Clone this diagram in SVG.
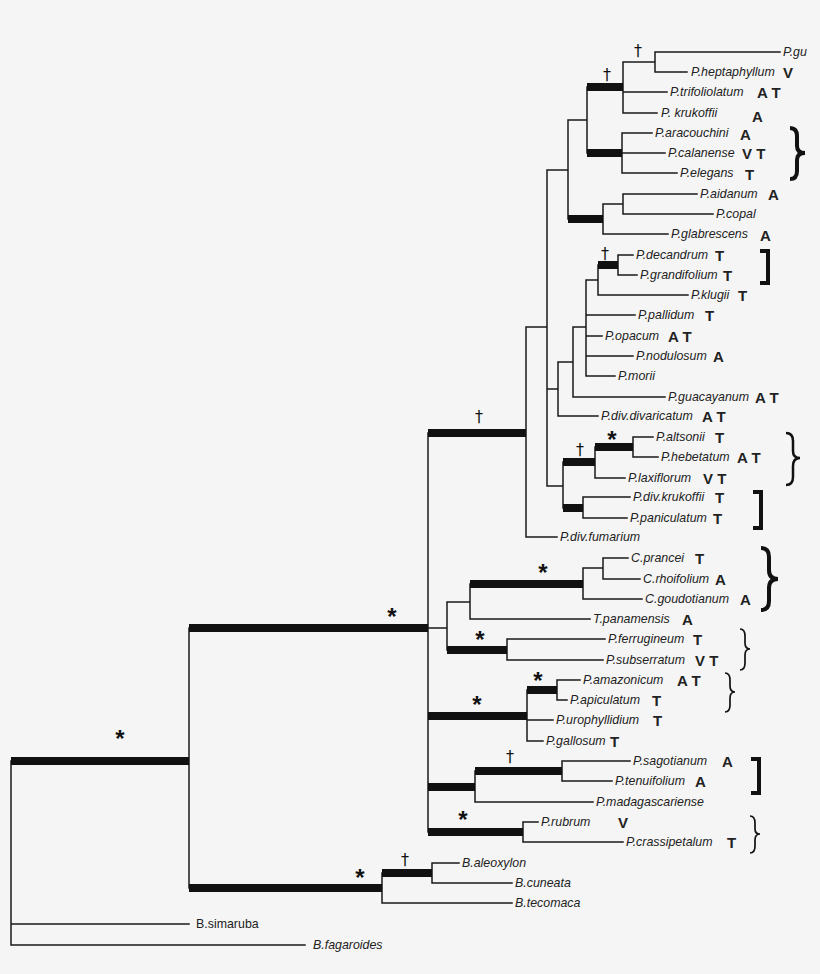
<svg xmlns="http://www.w3.org/2000/svg" width="820" height="974" viewBox="0 0 820 974">
<style>
.t{fill:none;stroke:#1a1a1a;stroke-width:1.5;stroke-linecap:square}
.k{fill:none;stroke:#111;stroke-width:8;stroke-linecap:butt}
.n{font-family:"Liberation Sans",Arial,sans-serif;font-style:italic;font-size:12.4px;fill:#222}
.u{font-family:"Liberation Sans",Arial,sans-serif;font-size:12.4px;fill:#222}
.c{font-family:"Liberation Sans",Arial,sans-serif;font-weight:bold;font-size:15px;fill:#222}
.m{font-family:"DejaVu Sans",sans-serif;font-size:16px;fill:#111;text-anchor:middle}
.s{font-family:"Liberation Sans",Arial,sans-serif;font-weight:bold;font-size:24px;fill:#111;text-anchor:middle}
.b{fill:none;stroke:#111;stroke-linecap:butt;stroke-linejoin:miter}
</style>
<rect width="820" height="974" fill="#f5f5f5"/>
<g id="connectors">
<path class="t" d="M655 52H780M655 72H687M655 52V72M623 62H655M623 62V113M623 92H667M623 113H657
M622 133V173M622 133H652M622 153H665M622 173H677M587 87V153M568 120H587
M623 194V214M623 194H697M623 214H713M603 204H623M603 204V234M603 234H668M568 120V219M547 170H568
M618 255V275M618 255H633M618 275H637M598 265V295M598 295H688M586 280H598M586 280V376
M586 315H635M586 336H602M586 356H633M586 376H615M573 327H586M573 327V397M573 397H665
M558 362H573M558 362V416M558 416H598M547 389H558
M633 437V457M633 437H653M633 457H658M595 447V478M595 478H625
M583 497V518M583 497H630M583 518H627M563 462V508M547 486H563M547 170V486M526 327H547M526 327V537M526 537H557
M603 558V579M603 558H628M603 579H640M583 568H603M583 568V599M583 599H642M470 584V619M470 619H590M447 602H470
M507 639V660M507 639H605M507 660H603M447 602V650M428 628H447
M557 680V700M557 680H580M557 700H567M527 690V741M527 720H553M527 741H543
M562 761V781M562 761H630M562 781H612M475 771V802M475 802H593
M523 822V842M523 822H538M523 842H623M428 433V832
M432 863V883M432 863H459M432 883H512M382 873V903M382 903H512
M189 628V888M11 761V945M11 924H189M11 945H305"/>
<path class="k" d="M587 87H623M587 153H622M568 219H603M598 265H618M428 433H526M595 447H633M563 462H595M563 508H583
M470 584H583M447 650H507M428 716H527M527 690H557M428 787H475M475 771H562M428 832H523M189 628H428
M382 873H432M189 888H382M11 761H189"/>
</g>
<g id="leaves">
<text class="n" x="783" y="56">P.gu</text>
<text class="n" x="691" y="76">P.heptaphyllum</text><text class="c" x="783" y="78">V</text>
<text class="n" x="670" y="96">P.trifoliolatum</text><text class="c" x="757" y="98">A T</text>
<text class="n" x="661" y="117">P. krukoffii</text><text class="c" x="752" y="122">A</text>
<text class="n" x="655" y="137">P.aracouchini</text><text class="c" x="740" y="140">A</text>
<text class="n" x="668" y="157">P.calanense</text><text class="c" x="742" y="159">V T</text>
<text class="n" x="680" y="177">P.elegans</text><text class="c" x="745" y="180">T</text>
<text class="n" x="700" y="198">P.aidanum</text><text class="c" x="768" y="200">A</text>
<text class="n" x="716" y="218">P.copal</text>
<text class="n" x="671" y="238">P.glabrescens</text><text class="c" x="760" y="241">A</text>
<text class="n" x="636" y="259">P.decandrum</text><text class="c" x="715" y="261">T</text>
<text class="n" x="640" y="279">P.grandifolium</text><text class="c" x="723" y="281">T</text>
<text class="n" x="691" y="299">P.klugii</text><text class="c" x="738" y="301">T</text>
<text class="n" x="638" y="319">P.pallidum</text><text class="c" x="705" y="321">T</text>
<text class="n" x="605" y="340">P.opacum</text><text class="c" x="668" y="342">A T</text>
<text class="n" x="636" y="360">P.nodulosum</text><text class="c" x="713" y="362">A</text>
<text class="n" x="618" y="380">P.morii</text>
<text class="n" x="668" y="401">P.guacayanum</text><text class="c" x="755" y="403">A T</text>
<text class="n" x="601" y="420">P.div.divaricatum</text><text class="c" x="702" y="422">A T</text>
<text class="n" x="656" y="441">P.altsonii</text><text class="c" x="715" y="443">T</text>
<text class="n" x="661" y="461">P.hebetatum</text><text class="c" x="737" y="463">A T</text>
<text class="n" x="628" y="482">P.laxiflorum</text><text class="c" x="703" y="484">V T</text>
<text class="n" x="633" y="501">P.div.krukoffii</text><text class="c" x="715" y="503">T</text>
<text class="n" x="630" y="522">P.paniculatum</text><text class="c" x="713" y="524">T</text>
<text class="n" x="560" y="541">P.div.fumarium</text>
<text class="n" x="631" y="562">C.prancei</text><text class="c" x="695" y="564">T</text>
<text class="n" x="643" y="583">C.rhoifolium</text><text class="c" x="715" y="585">A</text>
<text class="n" x="645" y="603">C.goudotianum</text><text class="c" x="740" y="605">A</text>
<text class="n" x="593" y="623">T.panamensis</text><text class="c" x="682" y="625">A</text>
<text class="n" x="608" y="643">P.ferrugineum</text><text class="c" x="693" y="645">T</text>
<text class="n" x="606" y="664">P.subserratum</text><text class="c" x="695" y="666">V T</text>
<text class="n" x="583" y="684">P.amazonicum</text><text class="c" x="677" y="686">A T</text>
<text class="n" x="570" y="704">P.apiculatum</text><text class="c" x="652" y="706">T</text>
<text class="n" x="556" y="724">P.urophyllidium</text><text class="c" x="653" y="726">T</text>
<text class="n" x="546" y="745">P.gallosum</text><text class="c" x="610" y="747">T</text>
<text class="n" x="633" y="765">P.sagotianum</text><text class="c" x="722" y="767">A</text>
<text class="n" x="615" y="785">P.tenuifolium</text><text class="c" x="695" y="787">A</text>
<text class="n" x="596" y="806">P.madagascariense</text>
<text class="n" x="541" y="826">P.rubrum</text><text class="c" x="618" y="828">V</text>
<text class="n" x="626" y="846">P.crassipetalum</text><text class="c" x="727" y="848">T</text>
<text class="n" x="462" y="867">B.aleoxylon</text>
<text class="n" x="515" y="887">B.cuneata</text>
<text class="n" x="515" y="907">B.tecomaca</text>
<text class="u" x="196" y="928">B.simaruba</text>
<text class="n" x="313" y="949">B.fagaroides</text>
</g>
<g id="support">
<text class="m" x="638" y="56">†</text>
<text class="m" x="607" y="80">†</text>
<text class="m" x="605" y="259">†</text>
<text class="m" x="479" y="422">†</text>
<text class="m" x="580" y="455">†</text>
<text class="m" x="510" y="762">†</text>
<text class="m" x="405" y="865">†</text>
<text class="s" x="612" y="448">*</text>
<text class="s" x="543" y="581">*</text>
<text class="s" x="480" y="648">*</text>
<text class="s" x="538" y="689">*</text>
<text class="s" x="477" y="713">*</text>
<text class="s" x="463" y="828">*</text>
<text class="s" x="392" y="625">*</text>
<text class="s" x="120" y="747">*</text>
<text class="s" x="360" y="886">*</text>
</g>
<g id="brackets">
<path class="b" stroke-width="4" d="M790 128Q797 128 797 136V146Q797 153 805 153Q797 153 797 160V171Q797 179 790 179"/>
<path class="b" stroke-width="4" d="M760 251H768V283H760"/>
<path class="b" stroke-width="2.5" d="M786 433Q793 433 793 441V451Q793 458 800 458Q793 458 793 466V477Q793 485 786 485"/>
<path class="b" stroke-width="4" d="M753 492H761V528H753"/>
<path class="b" stroke-width="4" d="M761 548Q769 548 769 557V570Q769 579 778 579Q769 579 769 588V601Q769 610 761 610"/>
<path class="b" stroke-width="1.7" d="M740 629Q745 629 745 636V643Q745 649 750 649Q745 649 745 655V663Q745 670 740 670"/>
<path class="b" stroke-width="1.7" d="M725 673Q730 673 730 680V686Q730 692 735 692Q730 692 730 698V705Q730 712 725 712"/>
<path class="b" stroke-width="4" d="M751 759H759V793H751"/>
<path class="b" stroke-width="1.7" d="M750 816Q755 816 755 823V829Q755 834 760 834Q755 834 755 840V846Q755 853 750 853"/>
</g>
</svg>
